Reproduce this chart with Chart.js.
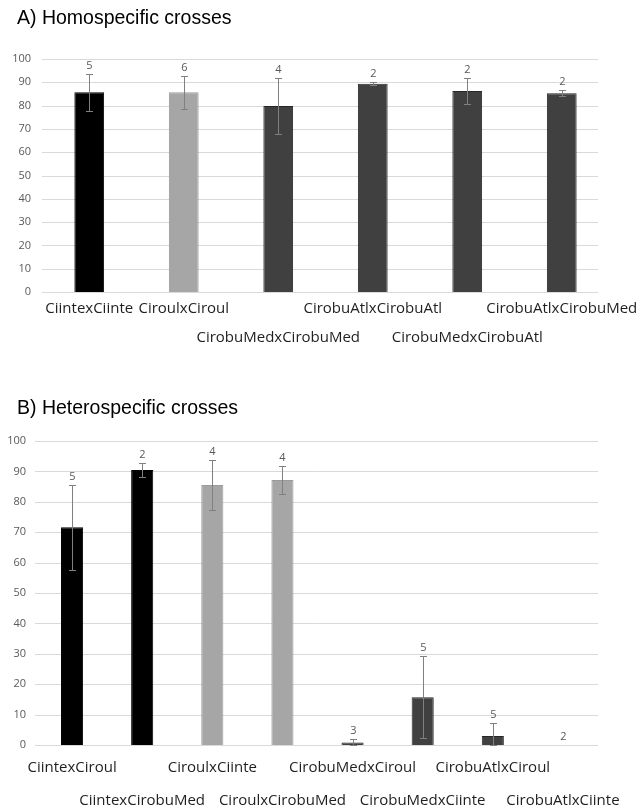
<!DOCTYPE html>
<html>
<head>
<meta charset="utf-8">
<script src="https://cdn.jsdelivr.net/npm/chart.js@4.4.0/dist/chart.umd.min.js"></script>
<style>
    body { margin: 0; background: #fff; width: 643px; height: 809px; position: relative; overflow: hidden; }
    .box { position: absolute; left: 0; width: 643px; }
    .ttl { position: absolute; left: 17px; font: 19.5px 'Liberation Sans', Arial, sans-serif; line-height: 19px; color: #000; z-index: 2; }
</style>
</head>
<body>
<div class="box" style="top:0;height:360px"><canvas id="chartA"></canvas></div>
<div class="box" style="top:390px;height:419px"><canvas id="chartB"></canvas></div>
<div class="ttl" style="top:8px">A) Homospecific crosses</div>
<div class="ttl" style="top:398px">B) Heterospecific crosses</div>
<script>
// A) homospecific crosses
const crossesA = ['CiintexCiinte', 'CiroulxCiroul', 'CirobuMedxCirobuMed', 'CirobuAtlxCirobuAtl', 'CirobuMedxCirobuAtl', 'CirobuAtlxCirobuMed'];
const meanA = [85.7, 85.7, 79.8, 89.4, 86.3, 85.3];
const sdA = [7.9, 7.1, 12.0, 0.7, 5.7, 1.3];
const nA = [5, 6, 4, 2, 2, 2];

// B) heterospecific crosses
const crossesB = ['CiintexCiroul', 'CiintexCirobuMed', 'CiroulxCiinte', 'CiroulxCirobuMed', 'CirobuMedxCiroul', 'CirobuMedxCiinte', 'CirobuAtlxCiroul', 'CirobuAtlxCiinte'];
const meanB = [71.6, 90.5, 85.5, 87.2, 0.8, 15.7, 3.0, 0];
const sdB = [14.0, 2.3, 8.3, 4.7, 1.1, 13.5, 4.3, 0];
const nB = [5, 2, 4, 4, 3, 5, 5, 2];

const yTicks = [0, 10, 20, 30, 40, 50, 60, 70, 80, 90, 100];

const BLACK = '#000000', LIGHT = '#a6a6a6', DARK = '#404040';
const colorsA = [BLACK, LIGHT, DARK, DARK, DARK, DARK];
const colorsB = [BLACK, BLACK, LIGHT, LIGHT, DARK, DARK, DARK, DARK];
const bordersOf = cols => cols.map(c => c === DARK ? '#262626' : (c === LIGHT ? '#9a9a9a' : '#000'));

// gridlines, error bars and sample sizes
function makeExtras(mean, sd, n, gridLeft, gridRight) {
    return {
        id: 'extras',
        beforeDatasetsDraw(chart) {
            const { ctx, scales: { y } } = chart;
            ctx.save();
            ctx.strokeStyle = '#d9d9d9';
            ctx.lineWidth = 1;
            yTicks.forEach(v => {
                const py = Math.round(y.getPixelForValue(v)) + 0.5;
                ctx.beginPath();
                ctx.moveTo(gridLeft, py);
                ctx.lineTo(gridRight, py);
                ctx.stroke();
            });
            ctx.restore();
        },
        afterDatasetsDraw(chart) {
            const { ctx, scales: { x, y } } = chart;
            ctx.save();
            ctx.strokeStyle = '#808080';
            ctx.lineWidth = 1;
            ctx.fillStyle = '#595959';
            ctx.font = '11px "Open Sans"';
            ctx.textAlign = 'center';
            ctx.textBaseline = 'bottom';
            mean.forEach((m, i) => {
                const px = Math.round(x.getPixelForValue(i)) + 0.5;
                const hi = Math.round(y.getPixelForValue(m + sd[i])) + 0.5;
                const lo = Math.round(y.getPixelForValue(Math.max(0, m - sd[i]))) + 0.5;
                if (sd[i] > 0) {
                    ctx.beginPath();
                    ctx.moveTo(px, hi); ctx.lineTo(px, lo);
                    ctx.moveTo(px - 3.5, hi); ctx.lineTo(px + 3.5, hi);
                    ctx.moveTo(px - 3.5, lo); ctx.lineTo(px + 3.5, lo);
                    ctx.stroke();
                }
                ctx.fillText(String(n[i]), px, hi - 3);
            });
            ctx.restore();
        }
    };
}

function makeChart(id, crosses, mean, sd, n, colors, rowTwo, cfg) {
    const labels = crosses.map((c, i) => rowTwo.includes(i) ? ['', c] : [c]);
    return new Chart(document.getElementById(id), {
        type: 'bar',
        data: {
            labels: labels,
            datasets: [{
                data: mean,
                backgroundColor: colors,
                borderColor: bordersOf(colors),
                borderWidth: 1,
                barPercentage: 0.315,
                categoryPercentage: 1
            }]
        },
        options: {
            responsive: true,
            maintainAspectRatio: false,
            animation: false,
            events: [],
            layout: { padding: { top: cfg.top, right: cfg.right, bottom: 0, left: 0 } },
            scales: {
                x: {
                    grid: { display: false, drawTicks: false },
                    border: { display: false },
                    ticks: {
                        autoSkip: false,
                        maxRotation: 0,
                        minRotation: 0,
                        padding: cfg.tickPad,
                        color: '#1f1f1f',
                        font: { family: 'Open Sans', size: 15, lineHeight: cfg.lineH }
                    },
                    afterFit(scale) {
                        scale.paddingLeft = 0;
                        scale.paddingRight = 0;
                        scale.height = cfg.xHeight;
                    }
                },
                y: {
                    min: 0,
                    max: 100,
                    grid: { display: false, drawTicks: false },
                    border: { display: false },
                    ticks: {
                        stepSize: 10,
                        padding: cfg.yPad,
                        color: '#595959',
                        font: { family: 'Open Sans', size: 11 }
                    },
                    afterFit(scale) { scale.width = cfg.yWidth; }
                }
            },
            plugins: {
                legend: { display: false },
                tooltip: { enabled: false }
            }
        },
        plugins: [makeExtras(mean, sd, n, cfg.gridLeft, cfg.gridRight)]
    });
}

makeChart('chartA', crossesA, meanA, sdA, nA, colorsA, [2, 4], {
    top: 59, right: 34, xHeight: 68, yWidth: 42, yPad: 11, tickPad: 2, lineH: '29px',
    gridLeft: 42, gridRight: 598
});

makeChart('chartB', crossesB, meanB, sdB, nB, colorsB, [1, 3, 5, 7], {
    top: 51, right: 45, xHeight: 64, yWidth: 37, yPad: 11, tickPad: 6, lineH: '33px',
    gridLeft: 35, gridRight: 598
});
</script>
</body>
</html>
